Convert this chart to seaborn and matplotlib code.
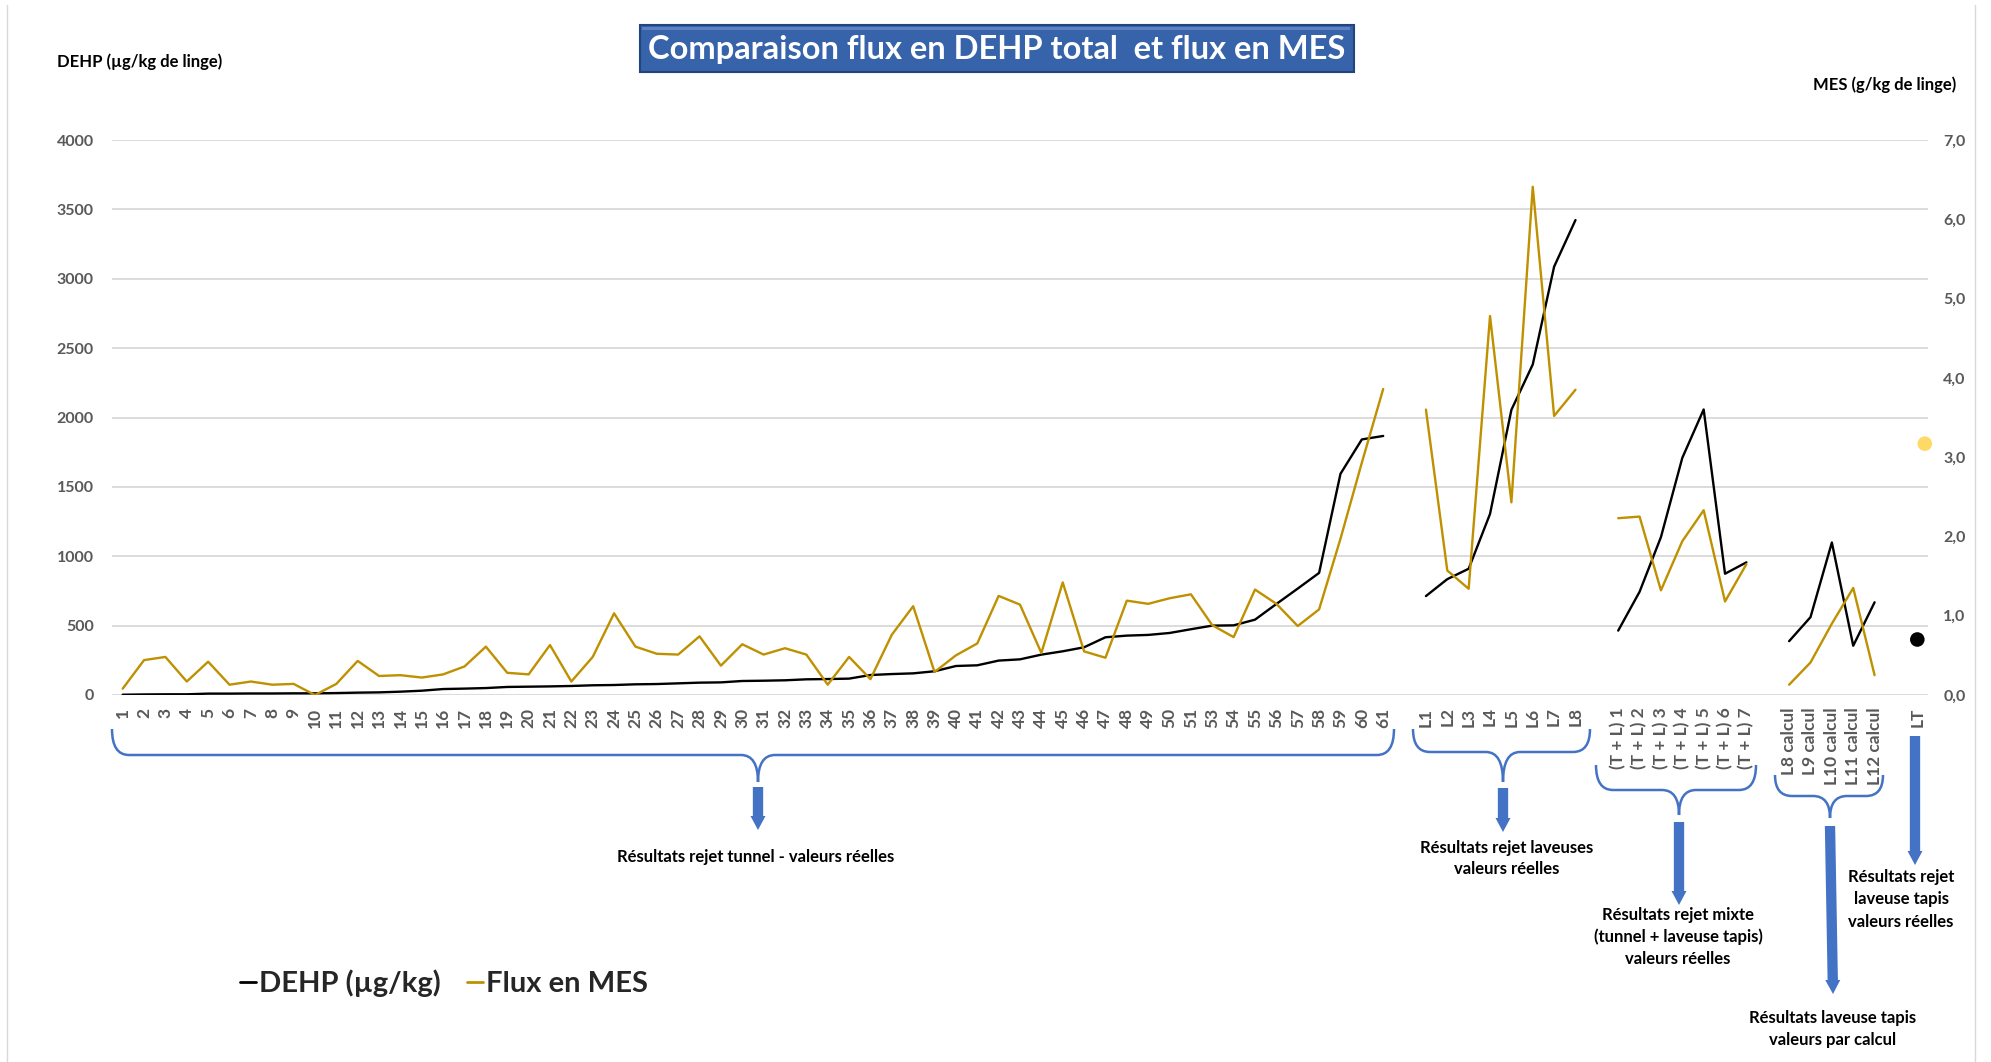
import matplotlib
matplotlib.use("Agg")
import matplotlib.pyplot as plt
import seaborn as sns
import pandas as pd
from matplotlib.path import Path
from matplotlib.patches import PathPatch, Rectangle, FancyArrow
from matplotlib.lines import Line2D

# ---- data -------------------------------------------------------------
tunnel_labels = [str(n) for n in range(1, 52)] + [str(n) for n in range(53, 62)]
tunnel_dehp = [2, 4, 5, 5, 10, 10, 11, 11, 12, 12, 14, 17, 19, 24, 31, 43, 46, 50, 58, 60,
               62, 65, 70, 72, 77, 79, 84, 89, 91, 101, 103, 106, 113, 115, 118, 144, 151, 156, 171, 209,
               214, 248, 257, 291, 315, 344, 416, 428, 433, 447, 474, 500, 502, 543, 656, 767, 880, 1594,
               1842, 1867]
tunnel_mes = [0.08, 0.44, 0.48, 0.17, 0.42, 0.13, 0.17, 0.13, 0.14, 0.00, 0.14, 0.43, 0.24, 0.25,
              0.22, 0.26, 0.36, 0.61, 0.28, 0.26, 0.63, 0.17, 0.48, 1.03, 0.61, 0.52, 0.51, 0.74,
              0.37, 0.64, 0.51, 0.59, 0.51, 0.13, 0.48, 0.20, 0.76, 1.12, 0.29, 0.50, 0.65, 1.25,
              1.14, 0.53, 1.42, 0.55, 0.47, 1.19, 1.15, 1.22, 1.27, 0.88, 0.73, 1.33, 1.15, 0.87,
              1.08, 1.97, 2.93, 3.86]

laveuse_labels = ["L1", "L2", "L3", "L4", "L5", "L6", "L7", "L8"]
laveuse_dehp = [713, 835, 910, 1305, 2055, 2382, 3087, 3423]
laveuse_mes = [3.60, 1.57, 1.34, 4.78, 2.43, 6.41, 3.52, 3.85]

mixte_labels = ["(T + L) 1", "(T + L) 2", "(T + L) 3", "(T + L) 4", "(T + L) 5", "(T + L) 6", "(T + L) 7"]
mixte_dehp = [464, 744, 1138, 1709, 2058, 874, 956]
mixte_mes = [2.23, 2.25, 1.32, 1.94, 2.33, 1.18, 1.65]

calcul_labels = ["L8 calcul", "L9 calcul", "L10 calcul", "L11 calcul", "L12 calcul"]
calcul_dehp = [388, 561, 1099, 355, 668]
calcul_mes = [0.13, 0.41, 0.90, 1.35, 0.25]

lt_labels = ["LT"]
lt_dehp = [400]
lt_mes = [3.17]

dehp_ticks = list(range(0, 4001, 500))
mes_ticks = [0, 1, 2, 3, 4, 5, 6, 7]

# ---- style ------------------------------------------------------------
sns.set_theme(style="white")
plt.rcParams["font.family"] = ["Lato", "DejaVu Sans"]
plt.rcParams["font.weight"] = "bold"

W, H = 1991, 1062
BLACK = "#000000"
GOLD = "#BF9000"
LIGHT_GOLD = "#FFD966"
BLUE = "#4472C4"
GREY = "#595959"

fig = plt.figure(figsize=(W / 100, H / 100), dpi=100)
fig.patch.set_facecolor("white")


def fx(x):
    return x / W


def fy(y):
    return 1 - y / H


ax = fig.add_axes([fx(112), fy(695), (1928 - 112) / W, (695 - 140) / H])
ax2 = ax.twinx()

# category slots: groups separated by one empty slot
groups = [
    (tunnel_labels, tunnel_dehp, tunnel_mes),
    (laveuse_labels, laveuse_dehp, laveuse_mes),
    (mixte_labels, mixte_dehp, mixte_mes),
    (calcul_labels, calcul_dehp, calcul_mes),
]
tick_pos, tick_lab = [], []
start = 0
for labels, dehp, mes in groups:
    xs = list(range(start, start + len(labels)))
    df = pd.DataFrame({"x": xs, "dehp": dehp, "mes": mes})
    sns.lineplot(data=df, x="x", y="dehp", ax=ax, color=BLACK, linewidth=1.7)
    sns.lineplot(data=df, x="x", y="mes", ax=ax2, color=GOLD, linewidth=1.7)
    tick_pos += xs
    tick_lab += labels
    start += len(labels) + 1

lt_x = start
sns.scatterplot(x=[lt_x], y=lt_dehp, ax=ax, color=BLACK, s=110, edgecolor="none")
sns.scatterplot(x=[lt_x + 0.35], y=lt_mes, ax=ax2, color=LIGHT_GOLD, s=110, edgecolor="none")
for a in (ax, ax2):
    for c in a.collections:
        c.set_clip_on(False)
tick_pos += [lt_x]
tick_lab += lt_labels

ax.set_xlim(-0.5, lt_x + 0.5)
ax.set_ylim(0, 4000)
ax2.set_ylim(0, 7)
ax.set_yticks(dehp_ticks)
ax.set_yticklabels([str(v) for v in dehp_ticks])
ax2.set_yticks(mes_ticks)
ax2.set_yticklabels([f"{v:.1f}".replace(".", ",") for v in mes_ticks])
ax.set_xticks(tick_pos)
ax.set_xticklabels(tick_lab, rotation=90)
ax.set_xlabel("")
ax.set_ylabel("")
ax2.set_ylabel("")

ax.yaxis.grid(True, color="#D9D9D9", linewidth=1.3)
ax.set_axisbelow(True)
for a in (ax, ax2):
    for s in a.spines.values():
        s.set_visible(False)
    a.tick_params(length=0)
ax.tick_params(axis="y", pad=13, labelsize=11.5, labelcolor=GREY)
ax.tick_params(axis="x", pad=9, labelsize=12.5, labelcolor=GREY)
ax2.tick_params(axis="y", pad=11, labelsize=11.5, labelcolor=GREY)
for t in ax.get_xticklabels() + ax.get_yticklabels() + ax2.get_yticklabels():
    t.set_fontweight("bold")

# ---- axis titles and chart title ------------------------------------
fig.text(fx(57), fy(62), "DEHP (µg/kg de linge)", ha="left", va="center",
         fontsize=12, fontweight="bold", color="black")
fig.text(fx(1956), fy(85), "MES (g/kg de linge)", ha="right", va="center",
         fontsize=12, fontweight="bold", color="black")

fig.patches.append(Rectangle((fx(640), fy(72)), (1354 - 640) / W, (72 - 25) / H,
                             transform=fig.transFigure, facecolor="#3763AA",
                             edgecolor="#24457C", linewidth=1.5, zorder=5))
fig.patches.append(Rectangle((fx(642), fy(30)), (1350 - 642) / W, 3 / H,
                             transform=fig.transFigure, facecolor="#5C82C2",
                             edgecolor="none", zorder=5))
fig.text(fx(997), fy(49), "Comparaison flux en DEHP total  et flux en MES",
         ha="center", va="center", fontsize=23.5, fontweight="bold", color="white", zorder=6)

# faint frame edges
fig.add_artist(Line2D([fx(7), fx(7)], [fy(5), fy(1062)], transform=fig.transFigure,
                      color="#D9D9D9", linewidth=1))
fig.add_artist(Line2D([fx(1975), fx(1975)], [fy(5), fy(1062)], transform=fig.transFigure,
                      color="#D9D9D9", linewidth=1))


# ---- group braces, arrows and captions ------------------------------
def brace(x0, x1, xc, top, line, tip, r=17):
    verts = [(x0, top), (x0, line), (x0 + r, line),
             (xc - r, line),
             (xc, line), (xc, tip),
             (xc, line), (xc + r, line),
             (x1 - r, line),
             (x1, line), (x1, top)]
    codes = [Path.MOVETO, Path.CURVE3, Path.CURVE3,
             Path.LINETO,
             Path.CURVE3, Path.CURVE3,
             Path.CURVE3, Path.CURVE3,
             Path.LINETO,
             Path.CURVE3, Path.CURVE3]
    pts = [(fx(a), fy(b)) for a, b in verts]
    fig.patches.append(PathPatch(Path(pts, codes), transform=fig.transFigure,
                                 facecolor="none", edgecolor=BLUE, linewidth=1.8))


def arrow(x0, y0, x1, y1):
    dx, dy = fx(x1) - fx(x0), fy(y1) - fy(y0)
    fig.patches.append(FancyArrow(fx(x0), fy(y0), dx, dy, width=5.5 / H,
                                  head_width=15 / W, head_length=14 / H,
                                  length_includes_head=True, transform=fig.transFigure,
                                  color=BLUE, linewidth=0))


def caption(x, ys, lines):
    for y, s in zip(ys, lines):
        fig.text(fx(x), fy(y), s, ha="center", va="center", fontsize=12,
                 fontweight="bold", color="black")


brace(112, 1394, 758, 729, 755, 782)
brace(1413, 1590, 1503, 729, 752, 782)
brace(1596, 1756, 1679, 765, 790, 815)
brace(1775, 1883, 1830, 775, 796, 818)

arrow(758, 787, 758, 830)
arrow(1503, 788, 1503, 832)
arrow(1679, 822, 1679, 905)
arrow(1830, 826, 1833, 994)
arrow(1915, 736, 1915, 865)

caption(756, [857], ["Résultats rejet tunnel - valeurs réelles"])
caption(1507, [848, 869], ["Résultats rejet laveuses", "valeurs réelles"])
caption(1678, [915, 937, 959], ["Résultats rejet mixte", "(tunnel + laveuse tapis)", "valeurs réelles"])
caption(1833, [1018, 1040], ["Résultats laveuse tapis", "valeurs par calcul"])
caption(1901, [877, 899, 922], ["Résultats rejet", "laveuse tapis", "valeurs réelles"])

# ---- legend -----------------------------------------------------------
handles = [Line2D([], [], color=BLACK, linewidth=2), Line2D([], [], color=GOLD, linewidth=2)]
fig.legend(handles, ["DEHP (µg/kg)", "Flux en MES"], loc="center left",
           bbox_to_anchor=(fx(214), fy(983)), ncol=2, frameon=False,
           handlelength=0.55, handletextpad=0.1, columnspacing=0.9,
           prop={"size": 21, "weight": "bold"})

fig.savefig("out.png", dpi=100, facecolor="white")
